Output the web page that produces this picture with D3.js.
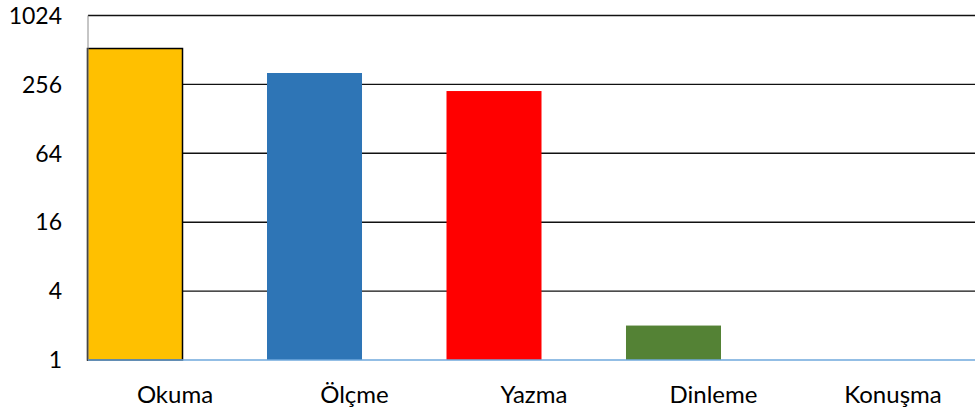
<!DOCTYPE html>
<html>
<head>
<meta charset="utf-8">
<script src="https://d3js.org/d3.v7.min.js"></script>
<style>
  html, body { margin: 0; padding: 0; background: #fff; }
  svg { display: block; }
</style>
</head>
<body>
<svg id="chart"></svg>
<script>
// ── Daten ─────────────────────────────────────────
const categories = ['Okuma', 'Ölçme', 'Yazma', 'Dinleme', 'Konuşma'];
const values     = [527, 322, 224, 2, 1];
const colors     = ['#FFC000', '#2E75B6', '#FF0000', '#548235', '#A5A5A5'];
const yTicks     = [1, 4, 16, 64, 256, 1024];

const width = 975, height = 413;
const plot = { left: 88, right: 975, top: 15.5, bottom: 360 };

const svg = d3.select('#chart').attr('width', width).attr('height', height);

// Skalen
const y = d3.scaleLog().base(2).domain([1, 1024]).range([plot.bottom, plot.top]);
const x = d3.scaleBand().domain(categories)
  .range([45.25, 942.75])
  .paddingInner(0.4707)
  .paddingOuter(0.2354);

// Gitterlinien
svg.append('g').selectAll('line')
  .data(yTicks.filter(t => t > 1))
  .join('line')
    .attr('x1', plot.left).attr('x2', plot.right)
    .attr('y1', d => y(d)).attr('y2', d => y(d))
    .attr('stroke', '#111')
    .attr('stroke-width', 1.4);

// Balken
svg.append('g').selectAll('rect')
  .data(categories)
  .join('rect')
    .attr('x', d => x(d))
    .attr('width', x.bandwidth())
    .attr('y', (d, i) => y(values[i]))
    .attr('height', (d, i) => y(1) - y(values[i]))
    .attr('fill', (d, i) => colors[i])
    .attr('stroke', (d, i) => i === 0 ? '#000' : 'none')
    .attr('stroke-width', 1.5);

// Achsenlinien
svg.append('line')
  .attr('x1', plot.left).attr('x2', plot.left)
  .attr('y1', plot.top).attr('y2', plot.bottom)
  .attr('stroke', '#8c8c8c').attr('stroke-width', 1);
svg.append('line')
  .attr('x1', plot.left).attr('x2', plot.right)
  .attr('y1', plot.bottom).attr('y2', plot.bottom)
  .attr('stroke', '#6FA8DC').attr('stroke-width', 1.5);

// Y-Beschriftung
svg.append('g').selectAll('text')
  .data(yTicks)
  .join('text')
    .attr('x', 62)
    .attr('y', d => y(d))
    .attr('dy', '0.36em')
    .attr('text-anchor', 'end')
    .attr('font-family', 'Lato, sans-serif')
    .attr('font-size', 23)
    .attr('fill', '#000')
    .text(d => d);

// X-Beschriftung (leicht nach rechts versetzt wie im Original)
svg.append('g').selectAll('text')
  .data(categories)
  .join('text')
    .attr('x', d => x(d) + x.bandwidth() / 2 + 40)
    .attr('y', 403)
    .attr('text-anchor', 'middle')
    .attr('font-family', 'Lato, sans-serif')
    .attr('font-size', 24)
    .attr('fill', '#000')
    .text(d => d);
</script>
</body>
</html>
